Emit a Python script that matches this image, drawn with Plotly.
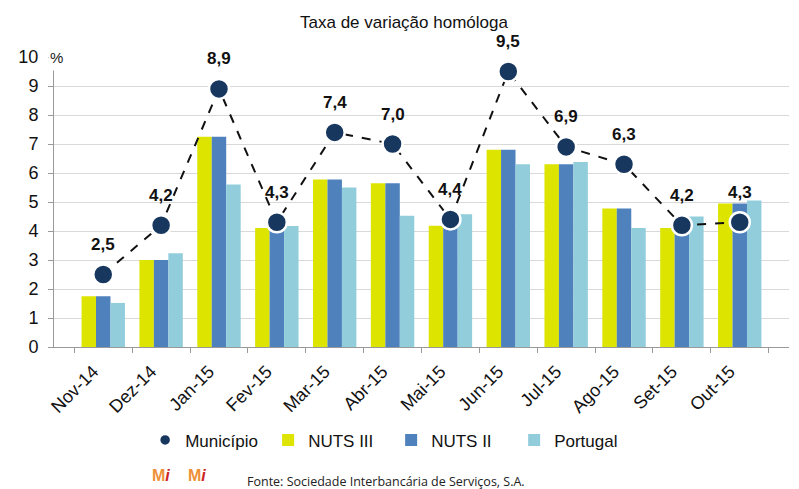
import plotly.graph_objects as go

categories = ["Nov-14", "Dez-14", "Jan-15", "Fev-15", "Mar-15", "Abr-15",
              "Mai-15", "Jun-15", "Jul-15", "Ago-15", "Set-15", "Out-15"]
municipio = [2.5, 4.2, 8.9, 4.3, 7.4, 7.0, 4.4, 9.5, 6.9, 6.3, 4.2, 4.3]
nuts3 = [1.75, 3.0, 7.25, 4.1, 5.78, 5.65, 4.18, 6.8, 6.3, 4.78, 4.1, 4.95]
nuts2 = [1.75, 3.0, 7.25, 4.1, 5.78, 5.65, 4.18, 6.8, 6.3, 4.78, 4.1, 4.95]
portugal = [1.52, 3.23, 5.6, 4.17, 5.5, 4.53, 4.58, 6.3, 6.38, 4.1, 4.5, 5.05]
labels = ["2,5", "4,2", "8,9", "4,3", "7,4", "7,0", "4,4", "9,5", "6,9", "6,3", "4,2", "4,3"]
y_ticks = [0, 1, 2, 3, 4, 5, 6, 7, 8, 9, 10]

FONT = "Liberation Sans, Arial, sans-serif"
MARKER = dict(size=20, color="#17375e", line=dict(color="white", width=2.5))

fig = go.Figure()
# legend-only entry for Município (circle without line)
fig.add_trace(go.Scatter(x=[None], y=[None], name="Município", mode="markers",
                         marker=dict(size=11, color="#17375e", line=dict(color="white", width=1.5)),
                         legendrank=1))
fig.add_trace(go.Bar(x=categories, y=nuts3, name="NUTS III", marker=dict(color="#dde400", line=dict(width=0)), legendrank=2))
fig.add_trace(go.Bar(x=categories, y=nuts2, name="NUTS II", marker=dict(color="#4f81bd", line=dict(width=0)), legendrank=3))
fig.add_trace(go.Bar(x=categories, y=portugal, name="Portugal", marker=dict(color="#92cddc", line=dict(width=0)), legendrank=4))
fig.add_trace(go.Scatter(
    x=categories, y=municipio, name="Município", mode="lines+markers",
    line=dict(color="#111111", width=2, dash="dash"),
    marker=MARKER, cliponaxis=False, showlegend=False,
))

annotations = []
for c, v, t in zip(categories, municipio, labels):
    annotations.append(dict(x=c, y=v, text="<b>" + t + "</b>", showarrow=False,
                            yshift=30, font=dict(family=FONT, size=17, color="#111111")))
annotations.append(dict(xref="paper", yref="paper", x=-0.008, y=1.0, text="%",
                        showarrow=False, xanchor="left", yanchor="middle",
                        width=22, height=24, align="left",
                        bgcolor="white", font=dict(family=FONT, size=15, color="#222222")))
annotations.append(dict(xref="paper", yref="paper", x=0.476, y=1.0, yshift=35,
                        text="Taxa de variação homóloga", showarrow=False,
                        xanchor="center", yanchor="middle",
                        font=dict(family=FONT, size=17, color="#111111")))
annotations.append(dict(xref="paper", yref="paper", x=0.26, y=0, yshift=-134,
                        text="Fonte: Sociedade Interbancária de Serviços, S.A.", showarrow=False,
                        xanchor="left", yanchor="middle",
                        font=dict(family="Open Sans, sans-serif", size=12.5, color="#222222")))
for xp in [0.145, 0.195]:
    annotations.append(dict(xref="paper", yref="paper", x=xp, y=0, yshift=-128,
                            text="<b><span style='color:#ee9038'>M</span><i><span style='color:#cc2222'>i</span></i></b>",
                            showarrow=False, xanchor="center", yanchor="middle",
                            font=dict(family=FONT, size=16)))

# page body has an 8px default margin, so the figure is sized to fit inside
fig.update_layout(
    width=791, height=481,
    margin=dict(l=46, r=10, t=49, b=142, autoexpand=False),
    paper_bgcolor="white", plot_bgcolor="white",
    barmode="group", bargap=0.25, bargroupgap=0,
    showlegend=True,
    legend=dict(orientation="h", x=0.124, y=-0.322, yanchor="middle", yref="paper",
                xanchor="left",
                font=dict(family=FONT, size=17, color="#111111"),
                traceorder="normal", entrywidth=78, entrywidthmode="pixels"),
    annotations=annotations,
    font=dict(family=FONT),
)
fig.update_xaxes(
    type="category", tickangle=-45, tickson="boundaries", ticks="outside", ticklen=5,
    tickcolor="#999999", showline=True, linecolor="#999999", linewidth=1,
    tickfont=dict(family=FONT, size=18, color="#111111"),
    ticklabelshift=-10, ticklabelstandoff=6,
)
fig.update_yaxes(
    range=[0, 10], tickvals=y_ticks, showgrid=True, gridcolor="#d9d9d9", gridwidth=1,
    showline=True, linecolor="#999999", ticks="outside", ticklen=5, tickcolor="#999999",
    zeroline=False, tickfont=dict(family=FONT, size=18, color="#111111"),
    ticklabelstandoff=6,
)

fig.write_html("out.html")
